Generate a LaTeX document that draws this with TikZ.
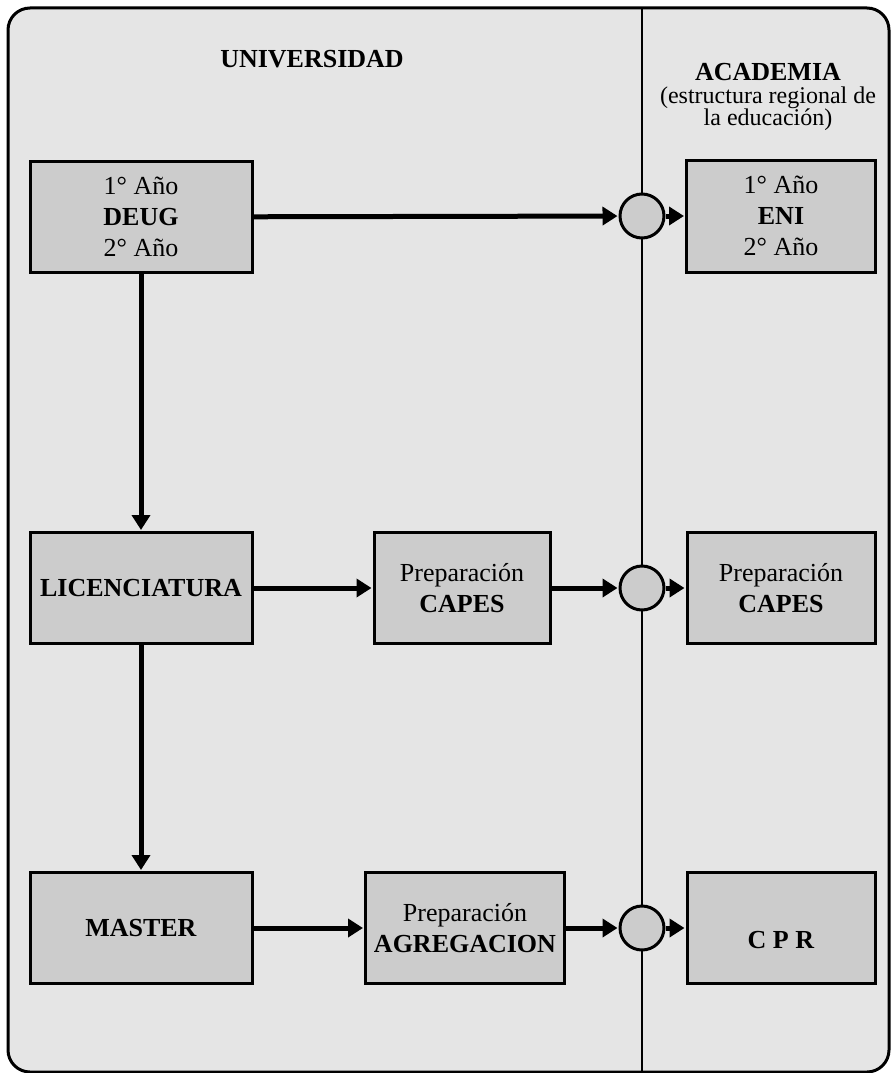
\documentclass[tikz,border=0pt]{standalone}
\usepackage{fontspec}
\setmainfont{Liberation Serif}
\usetikzlibrary{arrows.meta,positioning}

\begin{document}
\begin{tikzpicture}[x=1pt,y=-1pt]
      \tikzstyle{box} = [draw,line width=3pt,fill=black!20,align=center,inner sep=0pt,
        font=\fontsize{26}{31}\selectfont]
      \tikzstyle{junction} = [draw,circle,line width=3pt,fill=black!20,minimum size=44pt,inner sep=0pt]
      \tikzstyle{arr} = [line width=5pt,-{Triangle[length=15pt,width=18pt]},shorten >=1pt]

      \useasboundingbox (0,0) rectangle (891,1073);
      \draw[line width=3pt,fill=black!10,rounded corners=22pt] (8,8) rectangle (889,1072);
      \draw[line width=2.8pt] (642,9) -- (642,1071);

      \node[font=\fontsize{26}{31}\selectfont\bfseries] (univ) at (312,59) {UNIVERSIDAD};
      \node[font=\fontsize{26}{31}\selectfont\bfseries] (acad) at (768,72) {ACADEMIA};
      \node[font=\fontsize{24}{22}\selectfont,align=center] (acadsub) at (768,109)
        {(estructura regional de\\la educación)};

      \node[box,minimum width=222pt,minimum height=111pt](deug) at (141,217)
        {1° Año\\\textbf{DEUG}\\2° Año};
      \node[box,minimum width=189pt,minimum height=112pt](eni) at (781,216)
        {1° Año\\\textbf{ENI}\\2° Año};
      \node[box,minimum width=222pt,minimum height=111pt](lic) at (141,588) {\textbf{LICENCIATURA}};
      \node[box,minimum width=176pt,minimum height=111pt](prepc) at (462,588)
        {Preparación\\\textbf{CAPES}};
      \node[box,minimum width=188pt,minimum height=111pt](capes) at (781,588)
        {Preparación\\\textbf{CAPES}};
      \node[box,minimum width=222pt,minimum height=111pt](master) at (141,928) {\textbf{MASTER}};
      \node[box,minimum width=199pt,minimum height=111pt](prepa) at (465,928)
        {Preparación\\\textbf{AGREGACION}};
      \node[box,minimum width=188pt,minimum height=111pt](cpr) at (781,928)
        {\raisebox{-20pt}[0pt][0pt]{\textbf{C P R}}};

      \foreach \n/\y in {ja/216,jb/588,jc/928} {
        \node[junction](\n) at (642,\y) {};
      }

      \draw[arr] (deug) -- (ja);
      \draw[arr] (ja) -- (eni);
      \draw[arr] (deug) -- (lic);
      \draw[arr] (lic) -- (prepc);
      \draw[arr] (prepc) -- (jb);
      \draw[arr] (jb) -- (capes);
      \draw[arr] (lic) -- (master);
      \draw[arr] (master) -- (prepa);
      \draw[arr] (prepa) -- (jc);
      \draw[arr] (jc) -- (cpr);

    \end{tikzpicture}
\end{document}
